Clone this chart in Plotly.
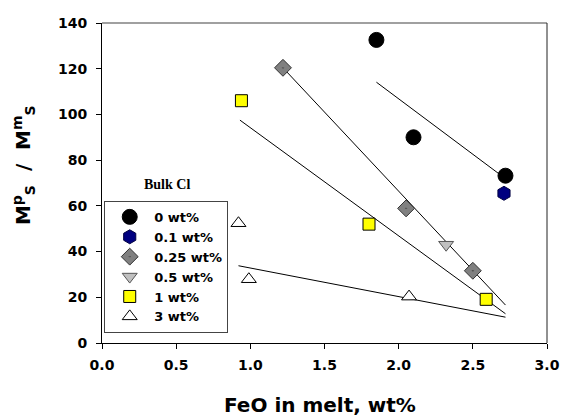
import plotly.graph_objects as go

# ---- data ----
feo_0 = [1.85, 2.10, 2.72]
ratio_0 = [132.6, 90.0, 73.2]
feo_01 = [2.71]
ratio_01 = [65.5]
feo_025 = [1.22, 2.05, 2.50]
ratio_025 = [120.4, 58.9, 31.6]
feo_05 = [2.32]
ratio_05 = [43.0]
feo_1 = [0.94, 1.80, 2.59]
ratio_1 = [106.0, 52.0, 19.1]
feo_3 = [0.92, 0.99, 2.07]
ratio_3 = [52.4, 27.9, 20.3]

# regression line end points
fit0_x = [1.85, 2.72]
fit0_y = [114.1, 71.9]
fit025_x = [1.22, 2.72]
fit025_y = [120.4, 16.6]
fit1_x = [0.93, 2.72]
fit1_y = [97.5, 12.8]
fit3_x = [0.92, 2.72]
fit3_y = [33.8, 11.3]

x_ticks = [0.0, 0.5, 1.0, 1.5, 2.0, 2.5, 3.0]
x_tick_text = ["0.0", "0.5", "1.0", "1.5", "2.0", "2.5", "3.0"]
y_ticks = [0, 20, 40, 60, 80, 100, 120, 140]

FONT = "DejaVu Sans"

fig = go.Figure()

for fx, fy in [(fit0_x, fit0_y), (fit025_x, fit025_y), (fit1_x, fit1_y), (fit3_x, fit3_y)]:
    fig.add_trace(go.Scatter(x=fx, y=fy, mode="lines", line=dict(color="black", width=1),
                             showlegend=False, hoverinfo="skip"))

series = [
    ("0 wt%", feo_0, ratio_0, dict(symbol="circle", size=15, color="black",
                                    line=dict(color="black", width=1))),
    ("0.1 wt%", feo_01, ratio_01, dict(symbol="hexagon", size=14, color="#000080",
                                        line=dict(color="#000040", width=1))),
    ("0.25 wt%", feo_025, ratio_025, dict(symbol="diamond-dot", size=13, color="#808080",
                                           line=dict(color="#333333", width=1))),
    ("0.5 wt%", feo_05, ratio_05, dict(symbol="triangle-down", size=13, color="#c0c0c0",
                                        line=dict(color="#555555", width=1))),
    ("1 wt%", feo_1, ratio_1, dict(symbol="square", size=12, color="#ffff00",
                                    line=dict(color="black", width=1))),
    ("3 wt%", feo_3, ratio_3, dict(symbol="triangle-up", size=13, color="white",
                                    line=dict(color="black", width=1))),
]
for name, xs, ys, mk in series:
    fig.add_trace(go.Scatter(x=xs, y=ys, mode="markers", name=name, marker=mk))

fig.update_layout(
    width=563, height=419,
    margin=dict(l=102, r=16, t=23, b=76, autoexpand=False),
    paper_bgcolor="white", plot_bgcolor="white",
    font=dict(family=FONT, color="black"),
    showlegend=True,
    legend=dict(x=0.005, y=0.444, xanchor="left", yanchor="top",
                bordercolor="#444444", borderwidth=1, bgcolor="white",
                font=dict(family=FONT, size=13, weight="bold"),
                itemwidth=39, tracegroupgap=0),
    xaxis=dict(range=[0, 3], tickvals=x_ticks, ticktext=x_tick_text, automargin=False,
               showgrid=False, zeroline=False, showline=True, linecolor="black", linewidth=1,
               ticks="outside", ticklen=5, tickcolor="black",
               tickfont=dict(family=FONT, size=14, weight="bold"), ticklabelstandoff=4),
    yaxis=dict(range=[0, 140], tickvals=y_ticks, automargin=False,
               showgrid=False, zeroline=False, showline=True, linecolor="black", linewidth=1,
               ticks="outside", ticklen=5, tickcolor="black",
               tickfont=dict(family=FONT, size=14, weight="bold"), ticklabelstandoff=6),
    shapes=[
        dict(type="line", xref="paper", yref="paper", x0=0, x1=1, y0=1, y1=1,
             line=dict(color="#808080", width=1.5)),
        dict(type="line", xref="paper", yref="paper", x0=1, x1=1, y0=0, y1=1,
             line=dict(color="#222222", width=1)),
    ],
    annotations=[
        dict(text="FeO in melt, wt%", xref="paper", yref="paper", x=0.49, y=0,
             yshift=-62, showarrow=False, xanchor="center", yanchor="middle",
             font=dict(family=FONT, size=20, weight="bold")),
        dict(text="M<sup>p</sup><sub>S</sub>\u00a0\u00a0/\u00a0\u00a0M<sup>m</sup><sub>S</sub>",
             xref="paper", yref="paper", x=0, y=0.556, xshift=-79, textangle=-90,
             showarrow=False, xanchor="center", yanchor="middle",
             font=dict(family=FONT, size=20, weight="bold")),
        dict(text="Bulk Cl", xref="paper", yref="paper", x=0.146, y=0.494,
             showarrow=False, xanchor="center", yanchor="middle",
             font=dict(family="Liberation Serif", size=14, weight="bold")),
    ],
)

fig.write_html("out.html", config={"displayModeBar": False},
               post_script="document.body.style.margin='0';document.body.style.overflow='hidden';")
